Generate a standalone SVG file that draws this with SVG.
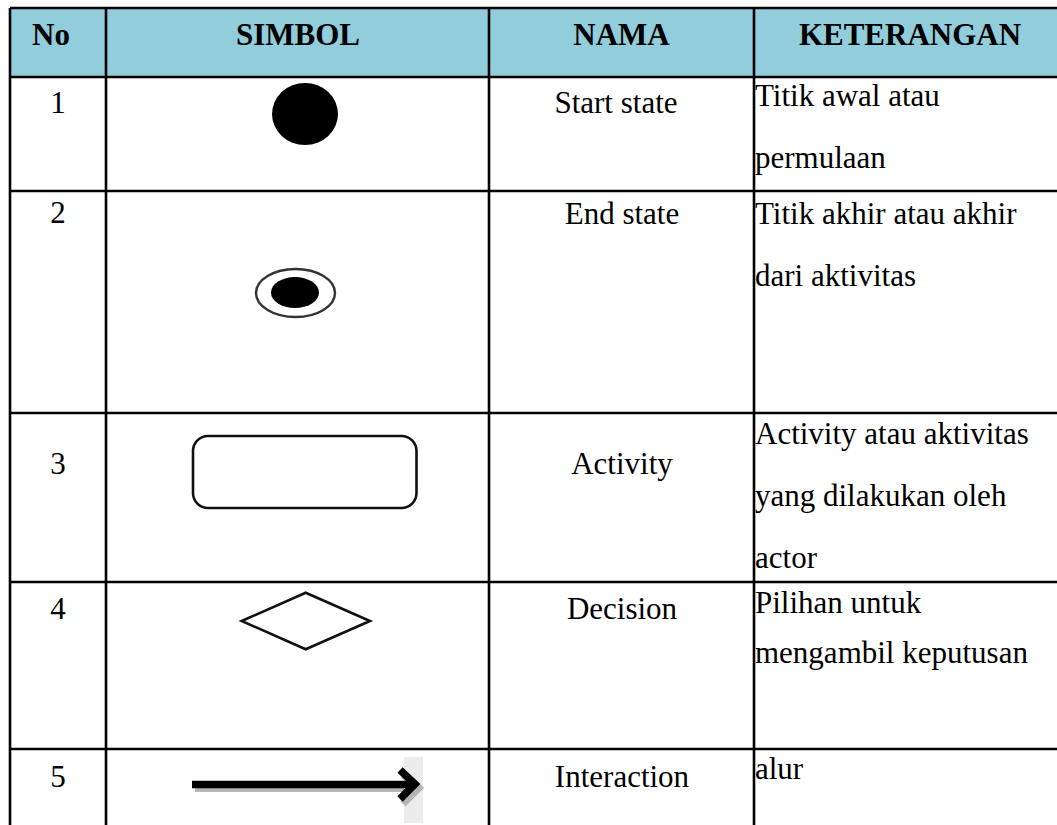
<svg xmlns="http://www.w3.org/2000/svg" width="1057" height="825" viewBox="0 0 1057 825">
<defs>
<style>
.grid{stroke:#000;stroke-width:2.6;fill:none}
.hd{font-family:"Liberation Serif","Times New Roman",serif;font-size:31px;font-weight:bold;fill:#000}
.tx{font-family:"Liberation Serif","Times New Roman",serif;font-size:31px;fill:#000}
.c{text-anchor:middle}
.sym{fill:none;stroke:#111;stroke-width:2.6}
</style>
</defs>
<rect x="0" y="0" width="1057" height="825" fill="#fff"/>
<g id="header">
<rect x="10" y="8" width="1060" height="69" fill="#92CDDC"/>
<text class="hd" x="32" y="45">No</text>
<text class="hd c" x="298" y="45">SIMBOL</text>
<text class="hd c" x="621.5" y="45">NAMA</text>
<text class="hd c" x="910" y="45">KETERANGAN</text>
</g>
<g id="grid">
<line class="grid" x1="10" y1="8" x2="1057" y2="8"/>
<line class="grid" x1="10" y1="77" x2="1057" y2="77"/>
<line class="grid" x1="10" y1="191" x2="1057" y2="191"/>
<line class="grid" x1="10" y1="413" x2="1057" y2="413"/>
<line class="grid" x1="10" y1="582" x2="1057" y2="582"/>
<line class="grid" x1="10" y1="749" x2="1057" y2="749"/>
<line class="grid" x1="10" y1="8" x2="10" y2="825"/>
<line class="grid" x1="106" y1="8" x2="106" y2="825"/>
<line class="grid" x1="489" y1="8" x2="489" y2="825"/>
<line class="grid" x1="754" y1="8" x2="754" y2="825"/>
</g>
<g id="row1">
<text class="tx c" x="58" y="113">1</text>
<ellipse id="start-state" cx="305" cy="114" rx="33" ry="31" fill="#000"/>
<text class="tx c" x="616" y="113">Start state</text>
<text class="tx" x="755" y="106">Titik awal atau</text>
<text class="tx" x="755" y="168">permulaan</text>
</g>
<g id="row2">
<text class="tx c" x="58" y="223">2</text>
<g id="end-state">
<ellipse cx="295.5" cy="293" rx="39.5" ry="24" fill="none" stroke="#333" stroke-width="2.4"/>
<ellipse cx="295" cy="292.5" rx="24" ry="15.5" fill="#000"/>
</g>
<text class="tx c" x="622" y="224">End state</text>
<text class="tx" x="755" y="224">Titik akhir atau akhir</text>
<text class="tx" x="755" y="286">dari aktivitas</text>
</g>
<g id="row3">
<text class="tx c" x="58" y="474">3</text>
<rect id="activity" class="sym" x="193" y="436" width="223.5" height="72" rx="15" ry="15"/>
<text class="tx c" x="622" y="474">Activity</text>
<text class="tx" x="755" y="444">Activity atau aktivitas</text>
<text class="tx" x="755" y="506">yang dilakukan oleh</text>
<text class="tx" x="755" y="568">actor</text>
</g>
<g id="row4">
<text class="tx c" x="58" y="619">4</text>
<polygon id="decision" class="sym" points="241.7,621 305.7,592.7 370,621 305.7,649.3"/>
<text class="tx c" x="622" y="619">Decision</text>
<text class="tx" x="755" y="613">Pilihan untuk</text>
<text class="tx" x="755" y="663">mengambil keputusan</text>
</g>
<g id="row5">
<text class="tx c" x="58" y="787">5</text>
<g id="interaction">
<rect x="404" y="757" width="19" height="66" fill="#ececec"/>
<line x1="195" y1="789" x2="404" y2="789" stroke="#b5b5b5" stroke-width="6"/>
<polyline points="403,775 419,788 403,804" fill="none" stroke="#b5b5b5" stroke-width="7"/>
<line x1="192" y1="784.5" x2="412" y2="784.5" stroke="#000" stroke-width="7.5"/>
<polyline points="400,770 415,784 400,799" fill="none" stroke="#000" stroke-width="7.5"/>
</g>
<text class="tx c" x="622" y="787">Interaction</text>
<text class="tx" x="755" y="779">alur</text>
</g>
</svg>
